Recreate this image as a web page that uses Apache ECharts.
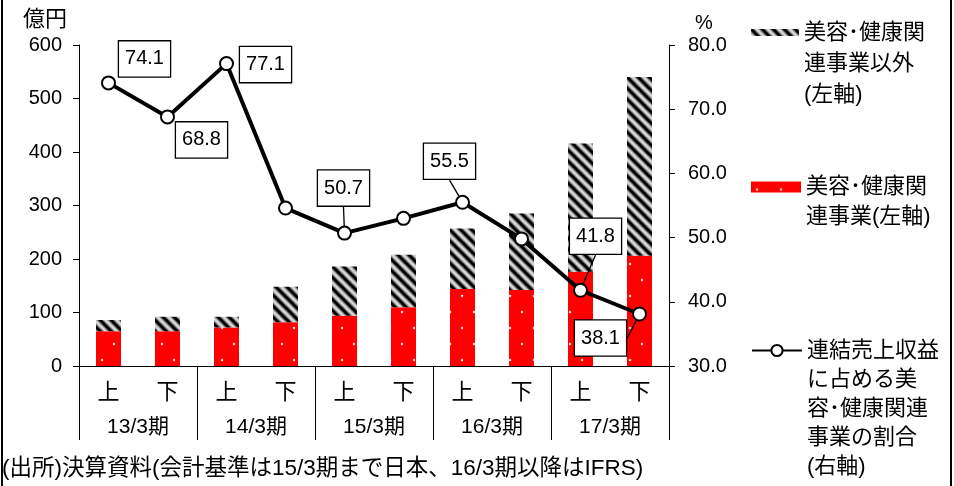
<!DOCTYPE html>
<html><head><meta charset="utf-8">
<script src="https://cdn.jsdelivr.net/npm/echarts@6/dist/echarts.min.js"></script>
<style>html,body{margin:0;padding:0;background:#fff}#c{width:954px;height:486px}</style>
</head><body><div id="c"></div>
<script>
// ---- data ----
const halves = ['上','下','上','下','上','下','上','下','上','下'];
const periods = ['13/3期','14/3期','15/3期','16/3期','17/3期'];
const beautyHealth = [65, 65, 72, 82, 94, 110, 144, 142, 176, 206];
const otherBiz = [21, 27, 20, 66, 92, 98, 113, 143, 240, 334];
const ratio = [74.1, 68.8, 77.1, 54.6, 50.7, 53.0, 55.5, 49.8, 41.8, 38.1];
const ratioLabelShown = [true, true, true, false, true, false, true, false, true, true];
const ratioLeaderShown = [false, false, false, false, true, false, true, false, true, true];
const nameOther = '美容･健康関連事業以外(左軸)';
const nameBH = '美容･健康関連事業(左軸)';
const nameRatio = '連結売上収益に占める美容･健康関連事業の割合(右軸)';
const legendOtherLines = ['美容･健康関', '連事業以外', '(左軸)'];
const legendBHLines = ['美容･健康関', '連事業(左軸)'];
const legendRatioLines = ['連結売上収益', 'に占める美', '容･健康関連', '事業の割合', '(右軸)'];
const footnote = '(出所)決算資料(会計基準は15/3期まで日本、16/3期以降はIFRS)';

// label placement (px offsets from point)
const labelOffsets = [[36,-24],[34,23],[39,1],[0,0],[-1,-45],[0,0],[-13,-41],[0,0],[15,-54],[-39,24]];

const JP = '"Liberation Sans","Noto Sans CJK JP",sans-serif';
const LAT = '"Liberation Sans",Arial,sans-serif';

// legend text whose first line sits level with the icon
function legendText(lines){
  return new Array(lines.length - 1).fill(' ').concat(lines).join('\n');
}

function stripePattern(){
  const s = 11, c = document.createElement('canvas');
  c.width = s; c.height = s;
  const ctx = c.getContext('2d');
  ctx.fillStyle = '#d9d9d9'; ctx.fillRect(0,0,s,s);
  [['#8a8a8a',5.5],['#000',3]].forEach(([col,w])=>{
    ctx.strokeStyle = col; ctx.lineWidth = w;
    [-s,0,s].forEach(o=>{
      ctx.beginPath(); ctx.moveTo(o-3,-3); ctx.lineTo(o+s+3,s+3); ctx.stroke();
    });
  });
  return c;
}
function dotPattern(){
  const w = 24, h = 32, c = document.createElement('canvas');
  c.width = w; c.height = h;
  const ctx = c.getContext('2d');
  ctx.fillStyle = '#ff0000'; ctx.fillRect(0,0,w,h);
  ctx.fillStyle = '#ffd6d6';
  [[6,8],[18,24]].forEach(([x,y])=>{ctx.beginPath(); ctx.arc(x,y,1.3,0,Math.PI*2); ctx.fill();});
  return c;
}

const chart = echarts.init(document.getElementById('c'), null, {renderer:'canvas'});
const stripe = {image: stripePattern(), repeat:'repeat'};
const dots = {image: dotPattern(), repeat:'repeat'};

const option = {
  animation: false,
  backgroundColor: '#fff',
  title: {
    text: footnote, left: 2, top: 458, padding: 0,
    textStyle: {fontSize: 22.5, fontWeight: 'normal', color: '#000', fontFamily: JP}
  },
  graphic: [{
    type: 'rect', silent: true, z: 100,
    shape: {x: 2, y: -10, width: 949, height: 510},
    style: {fill: null, stroke: '#000', lineWidth: 2}
  }],
  legend: [
    {left: 751, top: -45, padding: 0, itemWidth: 48, itemHeight: 7, icon: 'rect', selectedMode: false,
     data: [nameOther], formatter: () => legendText(legendOtherLines),
     textStyle: {fontSize: 22, lineHeight: 31, color: '#000', fontFamily: JP}},
    {left: 751, top: 142, padding: 0, itemWidth: 50, itemHeight: 11, icon: 'rect', selectedMode: false,
     data: [nameBH], formatter: () => legendText(legendBHLines),
     textStyle: {fontSize: 22, lineHeight: 30, color: '#000', fontFamily: JP}},
    {left: 751, top: 220, padding: 0, itemWidth: 50, itemHeight: 14, selectedMode: false,
     data: [nameRatio], formatter: () => legendText(legendRatioLines),
     textStyle: {fontSize: 22, lineHeight: 29, color: '#000', fontFamily: JP}}
  ],
  grid: {left: 79, right: 285, top: 45, bottom: 120},
  xAxis: [
    {type: 'category', data: halves, position: 'bottom',
     axisLine: {show: true, lineStyle: {color: '#000', width: 1}},
     axisTick: {show: false},
     axisLabel: {fontSize: 22, margin: 16, color: '#000', fontFamily: JP}},
    {type: 'category', data: periods, position: 'bottom',
     axisLine: {show: false},
     axisTick: {show: true, length: 74, lineStyle: {color: '#000', width: 1}},
     axisLabel: {fontSize: 21, margin: 51, color: '#000', fontFamily: JP}}
  ],
  yAxis: [
    {type: 'value', min: 0, max: 600, interval: 100, position: 'left',
     name: '億円', nameLocation: 'end', nameGap: 14,
     nameTextStyle: {fontSize: 22, color: '#000', fontFamily: JP, align: 'right', padding: [0,12,0,0]},
     axisLine: {show: true, lineStyle: {color: '#000', width: 1}},
     axisTick: {show: true, length: 6, lineStyle: {color: '#000'}},
     splitLine: {show: false},
     axisLabel: {fontSize: 20, margin: 17, color: '#000', fontFamily: LAT}},
    {type: 'value', min: 30, max: 80, interval: 10, position: 'right',
     name: '%', nameLocation: 'end', nameGap: 12,
     nameTextStyle: {fontSize: 20, color: '#000', fontFamily: LAT, align: 'left', padding: [0,0,0,26]},
     axisLine: {show: true, lineStyle: {color: '#000', width: 1}},
     axisTick: {show: true, length: 6, lineStyle: {color: '#000'}},
     splitLine: {show: false},
     axisLabel: {fontSize: 20, margin: 19, color: '#000', fontFamily: LAT,
                 formatter: v => v.toFixed(1)}}
  ],
  series: [
    {name: nameBH, type: 'bar', stack: 'total', xAxisIndex: 0, yAxisIndex: 0, barWidth: 25,
     data: beautyHealth, itemStyle: {color: dots}},
    {name: nameOther, type: 'bar', stack: 'total', xAxisIndex: 0, yAxisIndex: 0, barWidth: 25,
     data: otherBiz, itemStyle: {color: stripe}},
    {name: nameRatio, type: 'line', xAxisIndex: 0, yAxisIndex: 1, z: 5,
     symbol: 'circle', symbolSize: 13,
     lineStyle: {color: '#000', width: 4},
     itemStyle: {color: '#fff', borderColor: '#000', borderWidth: 2},
     label: {show: true, position: 'inside', fontSize: 20, color: '#000',
             fontFamily: LAT,
             backgroundColor: '#fff', borderColor: '#000', borderWidth: 1.3, padding: [8,6,7,6],
             formatter: p => p.value.toFixed(1)},
     labelLine: {show: true, lineStyle: {color: '#000', width: 1.3}},
     labelLayout: p => ({dx: labelOffsets[p.dataIndex][0], dy: labelOffsets[p.dataIndex][1]}),
     data: ratio.map((v, i) => ({
       value: v,
       label: {show: ratioLabelShown[i]},
       labelLine: {show: ratioLeaderShown[i]}
     }))}
  ]
};
chart.setOption(option);
</script>
</body></html>
